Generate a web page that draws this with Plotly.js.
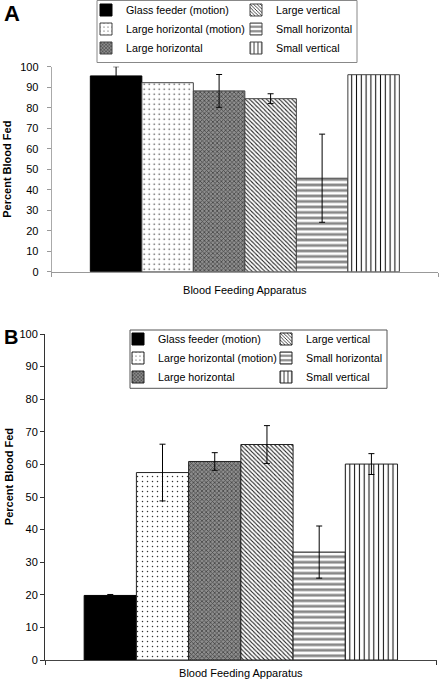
<!DOCTYPE html>
<html>
<head>
<meta charset="utf-8">
<script src="https://cdn.plot.ly/plotly-3.0.1.min.js"></script>
<style>html,body{margin:0;padding:0;background:#fff;}#chart{width:440px;height:681px;}</style>
</head>
<body>
<div id="chart"></div>
<script>
// ---- data ----
const category = ['Blood Feeding Apparatus'];
const seriesNames = ['Glass feeder (motion)', 'Large horizontal (motion)', 'Large horizontal', 'Large vertical', 'Small horizontal', 'Small vertical'];
const valuesA = [95.5, 92.2, 88.2, 84.4, 45.6, 96.1];
const errorsA = [4.5, 0, 8.0, 2.4, 21.5, 0];
const valuesB = [19.8, 57.5, 60.9, 66.1, 33.1, 60.1];
const errorsB = [0.3, 8.7, 2.7, 5.8, 8.0, 3.2];
const yTicks = [0, 10, 20, 30, 40, 50, 60, 70, 80, 90, 100];

// ---- styles ----
const FONT = 'Liberation Sans, Arial, sans-serif';
const fills = [
  {color: '#000000', pattern: {shape: ''}},
  {color: '#ffffff', pattern: {shape: '.', fgcolor: '#333', bgcolor: '#ffffff', size: 5, solidity: 0.07}},
  {color: '#8a8a8a', pattern: {shape: 'x', fgcolor: '#444', bgcolor: '#8e8e8e', size: 3, solidity: 0.45}},
  {color: '#ffffff', pattern: {shape: '\\', fgcolor: '#222', bgcolor: '#ffffff', size: 3, solidity: 0.35}},
  {color: '#ffffff', pattern: {shape: '-', fgcolor: '#888', bgcolor: '#ffffff', size: 5.5, solidity: 0.5}},
  {color: '#ffffff', pattern: {shape: '|', fgcolor: '#111', bgcolor: '#ffffff', size: 4.8, solidity: 0.22}}
];
const legendOfA = ['legend', 'legend', 'legend', 'legend2', 'legend2', 'legend2'];
const legendOfB = ['legend3', 'legend3', 'legend3', 'legend4', 'legend4', 'legend4'];

function makeTraces(values, errors, xa, ya, legends, outline) {
  return seriesNames.map((name, i) => ({
    type: 'bar',
    name: name,
    x: category,
    y: [values[i]],
    xaxis: xa, yaxis: ya,
    legend: legends[i],
    marker: {
      color: fills[i].color,
      pattern: fills[i].pattern,
      line: {color: i === 0 ? '#000' : outline, width: 1}
    },
    error_y: {type: 'data', array: [errors[i]], visible: errors[i] > 0, color: '#000', thickness: 1, width: 3},
    hoverinfo: 'name+y'
  }));
}

const data = makeTraces(valuesA, errorsA, 'x', 'y', legendOfA, '#444')
  .concat(makeTraces(valuesB, errorsB, 'x2', 'y2', legendOfB, '#222'));

const W = 440, H = 681;
const px = v => v / W;
const py = v => (H - v) / H;

function legendAt(xPix, topPix) {
  return {
    x: px(xPix), y: py(topPix), xanchor: 'left', yanchor: 'top',
    orientation: 'v', bgcolor: 'rgba(0,0,0,0)', borderwidth: 0,
    tracegroupgap: 0, itemclick: false, itemdoubleclick: false,
    font: {family: FONT, size: 10.7, color: '#000'}
  };
}

const axisFont = {family: FONT, size: 11, color: '#000'};

const layout = {
  width: W, height: H,
  margin: {l: 0, r: 0, t: 0, b: 0, autoexpand: false},
  paper_bgcolor: '#fff', plot_bgcolor: '#fff',
  barmode: 'group', bargap: 0.2, bargroupgap: 0,
  font: {family: FONT, size: 11, color: '#000'},
  xaxis: {
    domain: [px(51.7), px(438)], anchor: 'y', type: 'category',
    showticklabels: false, ticks: 'outside', tickson: 'boundaries', ticklen: 4, tickcolor: '#999',
    showline: true, linecolor: '#999', linewidth: 1, showgrid: false, zeroline: false,
    title: {text: 'Blood Feeding Apparatus', font: axisFont, standoff: 14}
  },
  yaxis: {
    domain: [py(271.7), py(66.7)], anchor: 'x', range: [0, 100],
    tickvals: yTicks, ticks: 'outside', ticklen: 4, tickcolor: '#999', ticklabelstandoff: 6,
    showline: true, linecolor: '#aaa', linewidth: 1, showgrid: false, zeroline: false,
    tickfont: axisFont,
    title: {text: '<b>Percent Blood Fed</b>', font: axisFont, standoff: 6}
  },
  xaxis2: {
    domain: [px(45), px(436.7)], anchor: 'y2', type: 'category',
    showticklabels: false, ticks: 'outside', tickson: 'boundaries', ticklen: 4, tickcolor: '#333',
    showline: true, linecolor: '#444', linewidth: 1, showgrid: false, zeroline: false,
    title: {text: 'Blood Feeding Apparatus', font: axisFont, standoff: 9}
  },
  yaxis2: {
    domain: [py(660), py(334)], anchor: 'x2', range: [0, 100],
    tickvals: yTicks, ticks: 'outside', ticklen: 4, tickcolor: '#333',
    showline: true, linecolor: '#333', linewidth: 1, showgrid: false, zeroline: false,
    tickfont: axisFont
  },
  legend: legendAt(86, -4.5),
  legend2: legendAt(236, -4.5),
  legend3: legendAt(118, 324.5),
  legend4: legendAt(266, 324.5),
  shapes: [
    {type: 'rect', xref: 'paper', yref: 'paper', x0: px(97), x1: px(357), y0: py(62.5), y1: py(0.5), line: {color: '#888', width: 1}, fillcolor: 'rgba(0,0,0,0)'},
    {type: 'rect', xref: 'paper', yref: 'paper', x0: px(130), x1: px(387), y0: py(388.3), y1: py(330), line: {color: '#555', width: 1}, fillcolor: 'rgba(0,0,0,0)'}
  ],
  annotations: [
    {text: '<b>A</b>', xref: 'paper', yref: 'paper', x: px(1.5), y: py(13), xanchor: 'left', yanchor: 'middle', showarrow: false, font: {family: FONT, size: 22, color: '#000'}},
    {text: '<b>B</b>', xref: 'paper', yref: 'paper', x: px(1.5), y: py(337), xanchor: 'left', yanchor: 'middle', showarrow: false, font: {family: FONT, size: 20, color: '#000'}},
    {text: '<b>Percent Blood Fed</b>', xref: 'paper', yref: 'paper', x: px(8.5), y: py(476.7), xanchor: 'center', yanchor: 'middle', textangle: -90, showarrow: false, font: axisFont}
  ]
};

Plotly.newPlot('chart', data, layout, {displayModeBar: false, staticPlot: true});
</script>
</body>
</html>
